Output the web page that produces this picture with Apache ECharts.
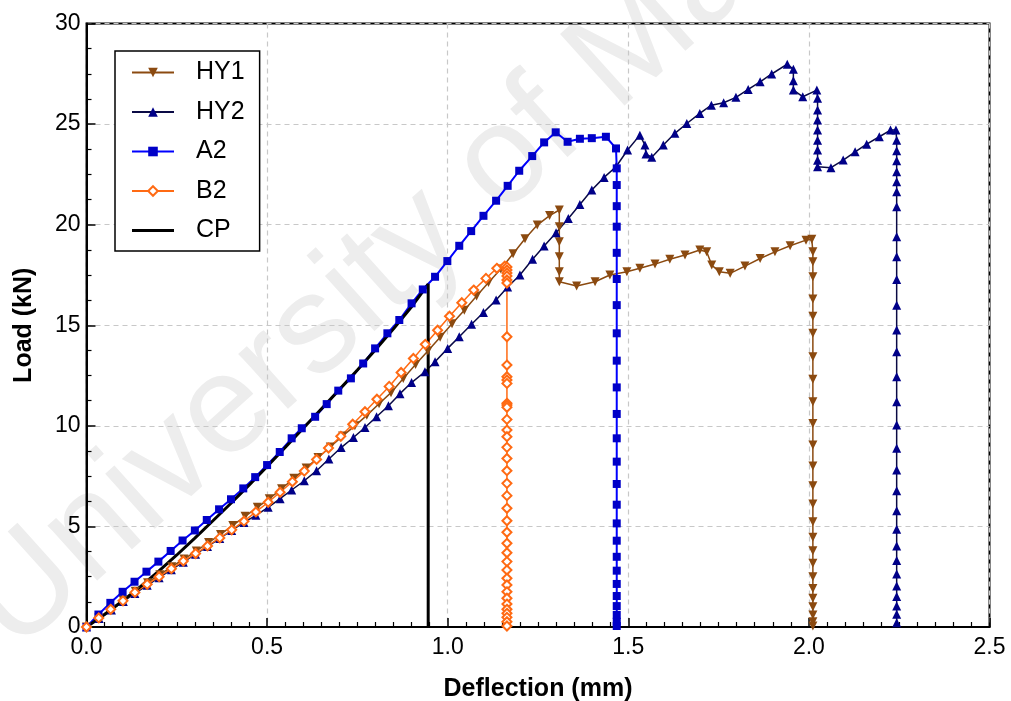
<!DOCTYPE html>
<html>
<head>
<meta charset="utf-8">
<script src="https://cdn.jsdelivr.net/npm/echarts@6/dist/echarts.min.js"></script>
<style>
html,body{margin:0;padding:0;background:#fff;}
#chart{width:1011px;height:701px;}
</style>
</head>
<body>
<div id="chart"></div>
<script>
// ---- data (Deflection mm, Load kN) ----
const seriesNames = ['HY1', 'HY2', 'A2', 'B2', 'CP'];
const xTicks = ['0.0', '0.5', '1.0', '1.5', '2.0', '2.5'];
const yTicks = ['0', '5', '10', '15', '20', '25', '30'];

const HY1 = [
  [0,0],[0.034,0.45],[0.068,0.9],[0.101,1.35],[0.135,1.78],[0.169,2.2],[0.203,2.6],[0.236,3.0],
  [0.27,3.38],[0.304,3.78],[0.338,4.2],[0.371,4.6],[0.405,5.05],[0.439,5.5],[0.473,5.95],[0.506,6.38],
  [0.54,6.87],[0.574,7.39],[0.608,7.9],[0.641,8.42],[0.675,8.95],[0.709,9.5],[0.743,10.0],[0.776,10.52],
  [0.81,11.1],[0.843,11.65],[0.877,12.35],[0.911,13.05],[0.945,13.72],[0.979,14.4],[1.012,15.08],
  [1.046,15.75],[1.08,16.45],[1.113,17.12],[1.147,17.8],[1.181,18.55],[1.214,19.3],[1.248,19.98],
  [1.282,20.45],[1.309,20.73],
  [1.309,19.9],[1.309,19.15],[1.309,18.4],[1.309,17.66],[1.309,17.16],
  [1.357,16.95],[1.408,17.16],[1.449,17.5],[1.496,17.66],[1.532,17.83],[1.574,18.04],[1.615,18.28],
  [1.657,18.49],[1.698,18.74],[1.717,18.65],[1.731,17.99],[1.752,17.66],[1.782,17.58],[1.823,17.94],
  [1.865,18.32],[1.906,18.65],[1.948,18.95],[1.992,19.23],[2.008,19.27],
  [2.011,18.65],[2.011,18.16],[2.011,17.41],[2.011,16.3],[2.011,15.45],[2.011,14.6],[2.011,13.43],
  [2.011,12.31],[2.011,11.2],[2.011,10.12],[2.011,9.05],[2.011,8.0],[2.011,7.02],[2.011,6.11],
  [2.011,5.23],[2.011,4.46],[2.011,3.79],[2.011,3.17],[2.011,2.5],[2.011,1.92],[2.011,1.43],
  [2.011,1.01],[2.011,0.6],[2.011,0.26],[2.011,0.05]
];

const HY2 = [
  [0,0],[0.035,0.42],[0.069,0.85],[0.102,1.27],[0.134,1.67],[0.168,2.07],[0.201,2.45],[0.235,2.85],
  [0.268,3.22],[0.302,3.62],[0.335,4.0],[0.369,4.4],[0.402,4.8],[0.436,5.2],[0.469,5.55],[0.503,5.95],
  [0.536,6.38],[0.568,6.81],[0.603,7.27],[0.637,7.77],[0.671,8.35],[0.705,8.92],[0.739,9.42],[0.771,9.92],
  [0.803,10.45],[0.836,11.0],[0.868,11.6],[0.9,12.15],[0.937,12.69],[0.965,13.19],[1.0,13.85],
  [1.032,14.43],[1.066,15.05],[1.099,15.63],[1.134,16.25],[1.166,16.9],[1.2,17.5],[1.235,18.28],
  [1.267,18.94],[1.3,19.6],[1.334,20.31],[1.366,21.0],[1.399,21.72],[1.433,22.35],[1.466,22.88],
  [1.498,23.71],[1.532,24.45],[1.546,23.96],[1.549,23.51],[1.565,23.35],[1.597,23.96],[1.629,24.54],
  [1.662,25.03],[1.698,25.53],[1.73,25.94],[1.764,26.06],[1.798,26.33],[1.832,26.72],[1.865,27.1],
  [1.897,27.49],[1.94,27.98],[1.957,27.72],[1.957,27.15],[1.957,26.69],[1.983,26.36],[2.022,26.69],
  [2.024,26.28],[2.024,25.7],[2.024,25.2],[2.024,24.7],[2.024,24.2],[2.024,23.71],[2.024,23.2],[2.024,22.88],
  [2.061,22.83],[2.095,23.21],[2.128,23.62],[2.16,24.0],[2.195,24.37],[2.226,24.7],[2.241,24.7],
  [2.243,24.2],[2.243,23.67],[2.243,23.18],[2.243,22.63],[2.243,22.13],[2.243,21.64],[2.243,20.89],
  [2.243,19.4],[2.243,18.4],[2.243,17.28],[2.243,16.0],[2.243,14.76],[2.243,13.68],[2.243,12.44],
  [2.243,11.2],[2.243,10.04],[2.243,8.88],[2.243,7.8],[2.243,6.77],[2.243,5.78],[2.243,4.86],
  [2.243,4.03],[2.243,3.3],[2.243,2.63],[2.243,2.04],[2.243,1.51],[2.243,1.04],[2.243,0.63],[2.243,0.21]
];

const A2 = [
  [0,0],[0.033,0.62],[0.066,1.2],[0.1,1.75],[0.133,2.25],[0.166,2.75],[0.199,3.25],[0.233,3.78],
  [0.266,4.3],[0.3,4.8],[0.333,5.32],[0.367,5.85],[0.4,6.35],[0.434,6.89],[0.467,7.45],[0.5,8.05],
  [0.535,8.7],[0.568,9.38],[0.596,9.88],[0.633,10.45],[0.665,11.08],[0.697,11.75],[0.732,12.36],
  [0.766,13.1],[0.799,13.85],[0.833,14.6],[0.866,15.26],[0.9,16.09],[0.931,16.78],[0.965,17.41],
  [0.999,18.19],[1.032,18.95],[1.065,19.68],[1.099,20.44],[1.134,21.19],[1.166,21.93],[1.198,22.68],
  [1.234,23.41],[1.267,24.09],[1.299,24.59],[1.332,24.12],[1.366,24.27],[1.399,24.3],[1.438,24.37],
  [1.466,23.79],
  [1.468,22.8],[1.468,21.97],[1.468,20.92],[1.468,19.9],[1.468,18.6],[1.468,17.3],[1.468,16.0],
  [1.468,14.6],[1.468,13.24],[1.468,11.91],[1.468,10.59],[1.468,9.38],[1.468,8.22],[1.468,7.11],
  [1.468,6.08],[1.468,5.15],[1.468,4.29],[1.468,3.49],[1.468,2.8],[1.468,2.14],[1.468,1.54],
  [1.468,1.04],[1.468,0.6],[1.468,0.26],[1.468,0.05]
];

const B2 = [
  [0,0],[0.034,0.45],[0.067,0.88],[0.101,1.3],[0.134,1.72],[0.168,2.12],[0.201,2.5],[0.235,2.9],
  [0.268,3.28],[0.302,3.65],[0.335,4.03],[0.369,4.43],[0.402,4.83],[0.436,5.26],[0.469,5.72],[0.503,6.2],
  [0.536,6.7],[0.57,7.22],[0.603,7.75],[0.637,8.33],[0.67,8.9],[0.704,9.48],[0.737,10.08],[0.771,10.7],
  [0.804,11.32],[0.838,11.96],[0.871,12.65],[0.905,13.35],[0.938,14.05],[0.972,14.75],[1.005,15.45],
  [1.039,16.12],[1.072,16.75],[1.106,17.33],[1.136,17.83],[1.158,17.94],
  [1.164,17.9],[1.164,17.75],[1.164,17.6],[1.164,17.45],[1.164,17.25],[1.164,17.1],[1.164,14.43],
  [1.164,13.02],[1.164,12.44],[1.164,12.28],[1.164,12.11],[1.164,11.12],[1.164,11.03],[1.164,10.92],
  [1.164,10.32],[1.164,9.79],[1.164,9.46],[1.164,8.93],[1.164,8.38],[1.164,7.77],[1.164,7.14],
  [1.164,6.53],[1.164,5.9],[1.164,5.28],[1.164,4.71],[1.164,4.16],[1.164,3.69],[1.164,3.25],
  [1.164,2.83],[1.164,2.42],[1.164,2.09],[1.164,1.75],[1.164,1.43],[1.164,1.14],[1.164,0.88],
  [1.164,0.68],[1.164,0.48],[1.164,0.26],[1.164,0.05]
];

const CP = [
  [0,0],[0.05,0.62],[0.1,1.3],[0.15,2.02],[0.2,2.78],[0.25,3.58],[0.3,4.42],[0.35,5.28],[0.4,6.15],
  [0.45,7.05],[0.5,7.98],[0.55,8.92],[0.6,9.88],[0.65,10.84],[0.7,11.8],[0.75,12.78],[0.8,13.78],
  [0.85,14.82],[0.9,15.92],[0.946,17.05],[0.946,0]
];

const FONT = 'Arial, "Liberation Sans", sans-serif';
const chart = echarts.init(document.getElementById('chart'), null, {renderer: 'canvas'});

const axisCommon = {
  axisLine: {show: true, onZero: false, lineStyle: {color: '#000', width: 2}},
  axisTick: {show: true, inside: true, length: 9, lineStyle: {color: '#000', width: 1.5}},
  minorTick: {show: true, length: 5, lineStyle: {color: '#000', width: 1.2}},
  splitLine: {show: true, lineStyle: {color: '#c8c8c8', type: [5, 4], width: 1.2}},
  nameTextStyle: {fontFamily: FONT, fontSize: 25, fontWeight: 'bold', color: '#000'}
};

const legendData = seriesNames.map(n => n === 'CP'
  ? {name: n, icon: 'path://M0,0 H42 V3 H0 Z', itemStyle: {color: '#000', borderWidth: 0}}
  : {name: n});

chart.setOption({
  animation: false,
  backgroundColor: '#fff',
  grid: {left: 86.5, right: 21.5, top: 23.5, bottom: 74, containLabel: false, outerBoundsMode: 'none',
    show: true, borderColor: '#000', borderWidth: 2, backgroundColor: 'transparent'},
  graphic: [{
    type: 'text', z: -10, silent: true,
    x: -11, y: 626, rotation: 42 * Math.PI / 180,
    style: {text: 'University of Malaya', font: 'normal 140px ' + FONT, fill: '#ededed', verticalAlign: 'middle', align: 'left'}
  }],
  legend: {
    orient: 'vertical', left: 115, top: 51,
    padding: [9, 15, 8, 16], itemGap: 14.5, itemWidth: 42, itemHeight: 12,
    symbolKeepAspect: true,
    backgroundColor: '#fff', borderColor: '#000', borderWidth: 1.5, borderRadius: 0,
    textStyle: {fontFamily: FONT, fontSize: 25, color: '#000', lineHeight: 25, padding: [0, 0, 0, 17]},
    data: legendData
  },
  xAxis: Object.assign({}, axisCommon, {
    type: 'value', min: 0, max: 2.5, interval: 0.5, minorTick: Object.assign({}, axisCommon.minorTick, {splitNumber: 10}),
    name: 'Deflection (mm)', nameLocation: 'middle', nameGap: 50,
    axisLabel: {fontFamily: FONT, fontSize: 23, color: '#000', margin: 9,
      formatter: v => xTicks[Math.round(v / 0.5)]}
  }),
  yAxis: Object.assign({}, axisCommon, {
    type: 'value', min: 0, max: 30, interval: 5, minorTick: Object.assign({}, axisCommon.minorTick, {splitNumber: 4}),
    name: 'Load (kN)', nameLocation: 'middle', nameGap: 50, nameRotate: 90,
    axisLabel: {fontFamily: FONT, fontSize: 23, color: '#000', margin: 6,
      formatter: v => yTicks[Math.round(v / 5)]}
  }),
  series: [
    {name: 'HY1', type: 'line', data: HY1, symbol: 'triangle', symbolSize: 9, symbolRotate: 180, showAllSymbol: true,
      lineStyle: {color: '#8B4A10', width: 1.5}, itemStyle: {color: '#8B4A10'}},
    {name: 'HY2', type: 'line', data: HY2, symbol: 'triangle', symbolSize: 9, showAllSymbol: true,
      lineStyle: {color: '#0a0a45', width: 1.5}, itemStyle: {color: '#000088'}},
    {name: 'A2', type: 'line', data: A2, symbol: 'rect', symbolSize: 8, showAllSymbol: true,
      lineStyle: {color: '#0000FF', width: 2}, itemStyle: {color: '#0000C8'}},
    {name: 'B2', type: 'line', data: B2, symbol: 'emptyDiamond', symbolSize: 9, showAllSymbol: true,
      lineStyle: {color: '#FF6A13', width: 1.5}, itemStyle: {color: '#FF6A13', borderWidth: 1.5}},
    {name: 'CP', type: 'line', data: CP, symbol: 'none', showSymbol: false,
      lineStyle: {color: '#000', width: 3}, itemStyle: {color: '#000'}}
  ]
});
</script>
</body>
</html>
